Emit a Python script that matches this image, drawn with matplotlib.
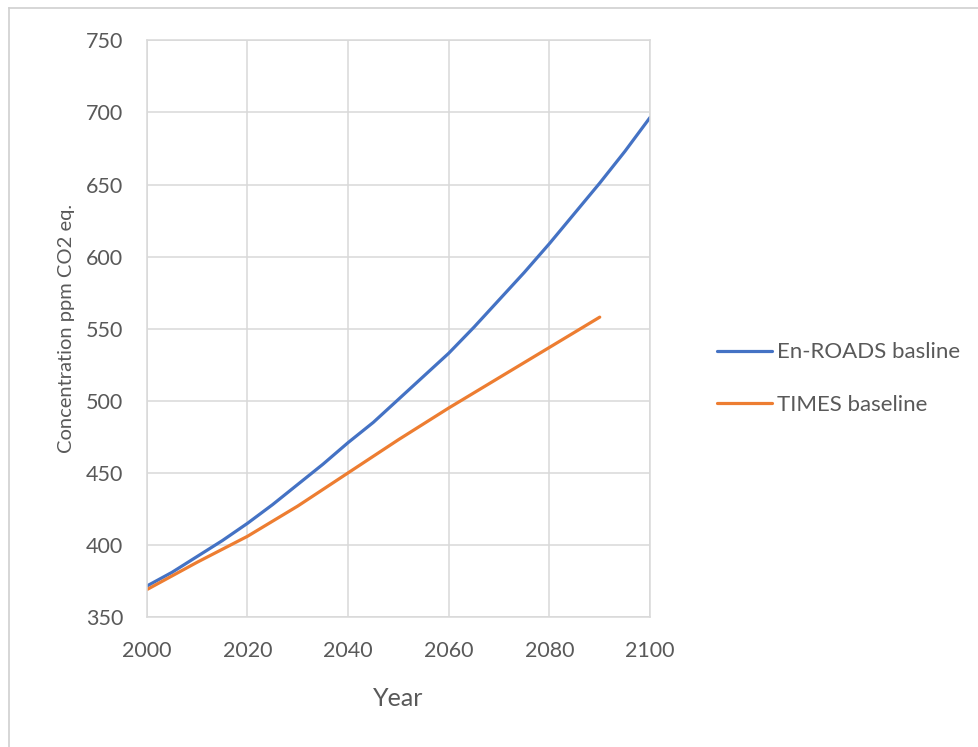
import matplotlib.pyplot as plt
from matplotlib.lines import Line2D

plt.rcParams['font.family'] = ['Lato', 'DejaVu Sans']

# CO2 concentration, ppm CO2 eq.
years_enroads = [2000, 2005, 2010, 2015, 2020, 2025, 2030, 2035, 2040, 2045, 2050,
                 2055, 2060, 2065, 2070, 2075, 2080, 2085, 2090, 2095, 2100]
enroads = [371.5, 381, 392, 403, 415, 428, 442, 456, 471, 485, 501,
           517, 533, 551, 570, 589, 609, 630, 651, 673, 696.5]

years_times = [2000, 2010, 2020, 2030, 2040, 2050, 2060, 2070, 2080, 2090]
times = [369, 388, 406, 427, 450, 473, 495, 516, 537, 558]

x_ticks = [2000, 2020, 2040, 2060, 2080, 2100]
y_ticks = [350, 400, 450, 500, 550, 600, 650, 700, 750]

text_color = '#595959'
grid_color = '#d9d9d9'

fig = plt.figure(figsize=(9.79, 7.47), dpi=100)
ax = fig.add_axes([0.150, 0.174, 0.514, 0.772])

ax.plot(years_enroads, enroads, color='#4472c4', linewidth=2.3, label='En-ROADS basline',
        solid_capstyle='round')
ax.plot(years_times, times, color='#ed7d31', linewidth=2.3, label='TIMES baseline',
        solid_capstyle='round')

ax.set_xlim(2000, 2100)
ax.set_ylim(350, 750)
ax.set_xticks(x_ticks)
ax.set_yticks(y_ticks)
ax.grid(True, color=grid_color, linewidth=1.1)
ax.set_axisbelow(True)
ax.tick_params(length=0, labelsize=15.5, colors=text_color, pad=17)
for spine in ax.spines.values():
    spine.set_color(grid_color)
    spine.set_linewidth(1.1)

ax.set_xlabel('Year', fontsize=18, color=text_color, labelpad=19)
ax.set_ylabel('Concentration ppm CO2 eq.', fontsize=14.5, color=text_color, labelpad=8)

ax.legend(loc='center left', bbox_to_anchor=(0.732, 0.4933), bbox_transform=fig.transFigure,
          frameon=False, fontsize=16, labelcolor=text_color, handlelength=2.5,
          handletextpad=0.2, labelspacing=1.45, borderpad=0, borderaxespad=0)

# thin chart-area border along the top and left edges
fig.add_artist(Line2D([0.009, 1.0], [0.989, 0.989], transform=fig.transFigure,
                      color='#d0d0d0', linewidth=1.2))
fig.add_artist(Line2D([0.009, 0.009], [0.0, 0.989], transform=fig.transFigure,
                      color='#d0d0d0', linewidth=1.2))

fig.savefig('out.png', dpi=100)
